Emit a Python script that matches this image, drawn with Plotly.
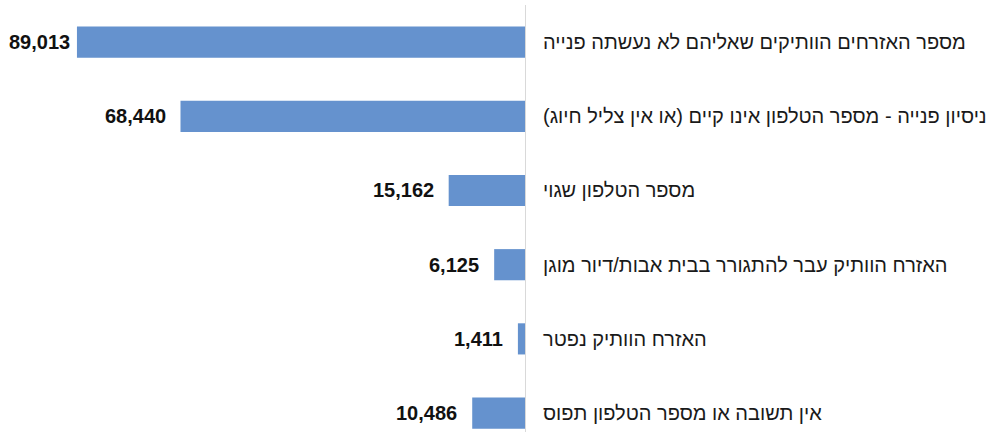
import plotly.graph_objects as go

# Categories, top to bottom
categories = [
    "מספר האזרחים הוותיקים שאליהם לא נעשתה פנייה",
    "ניסיון פנייה - מספר הטלפון אינו קיים (או אין צליל חיוג)",
    "מספר הטלפון שגוי",
    "האזרח הוותיק עבר להתגורר בבית אבות/דיור מוגן",
    "האזרח הוותיק נפטר",
    "אין תשובה או מספר הטלפון תפוס",
]
values = [89013, 68440, 15162, 6125, 1411, 10486]

RLM = "\u200f"
tick_labels = [RLM + c + RLM for c in categories]
positions = list(range(len(categories)))

BAR_COLOR = "#6592CE"

fig = go.Figure(
    go.Bar(
        x=values,
        y=positions,
        orientation="h",
        width=0.42,
        marker=dict(color=BAR_COLOR, line=dict(width=0)),
        hoverinfo="skip",
    )
)

# Bold value labels just beyond each bar end; the longest bar's label is
# tucked closer so it stays inside the page.
vmax = max(values)
for v, p in zip(values, positions):
    fig.add_annotation(
        x=v,
        y=p,
        text=f"<b>{v:,}</b>",
        showarrow=False,
        xanchor="right",
        yanchor="middle",
        xshift=-5 if v > 0.9 * vmax else -13,
        font=dict(family="Liberation Sans, Arial, sans-serif", size=20, color="#111111"),
    )

fig.update_layout(
    width=994,
    height=432,
    margin=dict(l=0, r=469, t=5, b=0),
    paper_bgcolor="white",
    plot_bgcolor="white",
    showlegend=False,
    xaxis=dict(
        range=[104300, 0],
        showgrid=False,
        zeroline=False,
        showticklabels=False,
        showline=False,
        fixedrange=True,
    ),
    yaxis=dict(
        range=[5.255, -0.5],
        side="right",
        tickmode="array",
        tickvals=positions,
        ticktext=tick_labels,
        ticks="",
        ticklabelstandoff=13,
        showgrid=False,
        zeroline=False,
        showline=True,
        linecolor="#D9D9D9",
        linewidth=1,
        tickfont=dict(family="Liberation Sans, Arial, sans-serif", size=20, color="#1a1a1a"),
        fixedrange=True,
    ),
)

fig.write_html("out.html")
